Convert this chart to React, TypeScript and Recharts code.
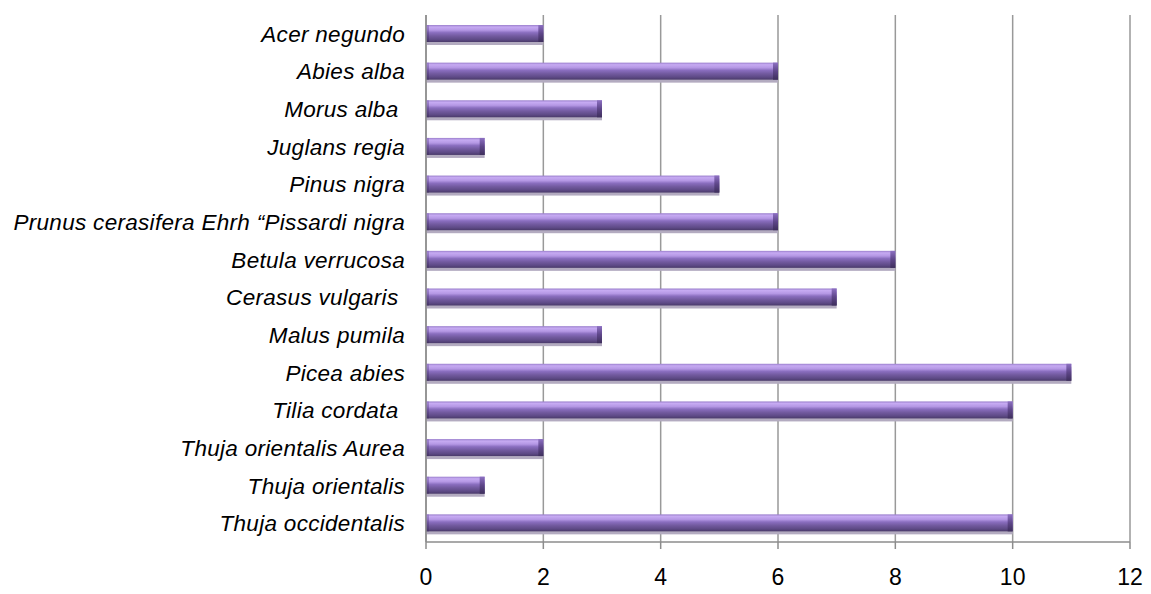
import { Bar, BarChart, CartesianGrid, XAxis, YAxis } from "recharts";

const species = [
  "Acer negundo",
  "Abies alba",
  "Morus alba ",
  "Juglans regia",
  "Pinus nigra",
  "Prunus cerasifera  Ehrh “Pissardi  nigra",
  "Betula verrucosa",
  "Cerasus vulgaris ",
  "Malus pumila",
  "Picea abies",
  "Tilia cordata ",
  "Thuja  orientalis Aurea",
  "Thuja orientalis",
  "Thuja occidentalis",
];

const counts = [2, 6, 3, 1, 5, 6, 8, 7, 3, 11, 10, 2, 1, 10];

const xTicks = [0, 2, 4, 6, 8, 10, 12];

const data = species.map((name, i) => ({ name, count: counts[i] }));

const font = "'Liberation Sans', Arial, sans-serif";

function BeveledBar(props: any) {
  const { x, y, width, height } = props;
  if (!width || width <= 0) return null;
  const cap = Math.min(5, width);
  return (
    <g>
      <rect x={x} y={y + 3} width={width} height={height} fill="#b3abc0" />
      <rect x={x} y={y} width={width} height={height} fill="url(#barFill)" />
      <rect x={x} y={y} width={3} height={height} fill="url(#capFill)" opacity={0.6} />
      <rect x={x + width - cap} y={y} width={cap} height={height} fill="url(#capFill)" />
    </g>
  );
}

export default function App() {
  return (
    <div style={{ margin: -8, background: "#fff", width: 1151, height: 594 }}>
      <div style={{ paddingLeft: 8, paddingTop: 8 }}>
        <BarChart
          width={1143}
          height={586}
          data={data}
          layout="vertical"
          margin={{ top: 7, right: 21, left: 0, bottom: 0 }}
          barSize={17}
        >
          <defs>
            <linearGradient id="barFill" x1="0" y1="0" x2="0" y2="1">
              <stop offset="0%" stopColor="#9a7fcc" />
              <stop offset="12%" stopColor="#c6aaf2" />
              <stop offset="30%" stopColor="#b497e4" />
              <stop offset="45%" stopColor="#8a6ebf" />
              <stop offset="65%" stopColor="#725a9f" />
              <stop offset="85%" stopColor="#5e4a86" />
              <stop offset="100%" stopColor="#4a3a6a" />
            </linearGradient>
            <linearGradient id="capFill" x1="0" y1="0" x2="0" y2="1">
              <stop offset="0%" stopColor="#8d70c2" />
              <stop offset="50%" stopColor="#5e4689" />
              <stop offset="100%" stopColor="#3e2f5c" />
            </linearGradient>
          </defs>
          <CartesianGrid horizontal={false} stroke="#999999" strokeWidth={1.5} />
          <XAxis
            type="number"
            domain={[0, 12]}
            ticks={xTicks}
            interval={0}
            height={52}
            axisLine={{ stroke: "#8c8c8c", strokeWidth: 1.5 }}
            tickLine={{ stroke: "#8c8c8c", strokeWidth: 1.5 }}
            tickSize={7}
            tickMargin={20}
            tick={{ fontSize: 23, fill: "#000", fontFamily: font }}
          />
          <YAxis
            type="category"
            dataKey="name"
            width={418}
            interval={0}
            axisLine={{ stroke: "#8c8c8c", strokeWidth: 1.5 }}
            tickLine={false}
            tickMargin={15}
            tick={{
              fontSize: 22.5,
              fill: "#000",
              fontFamily: font,
              fontStyle: "italic",
              letterSpacing: 0.3,
              style: { whiteSpace: "pre" },
            }}
          />
          <Bar dataKey="count" shape={<BeveledBar />} isAnimationActive={false} />
        </BarChart>
      </div>
    </div>
  );
}
